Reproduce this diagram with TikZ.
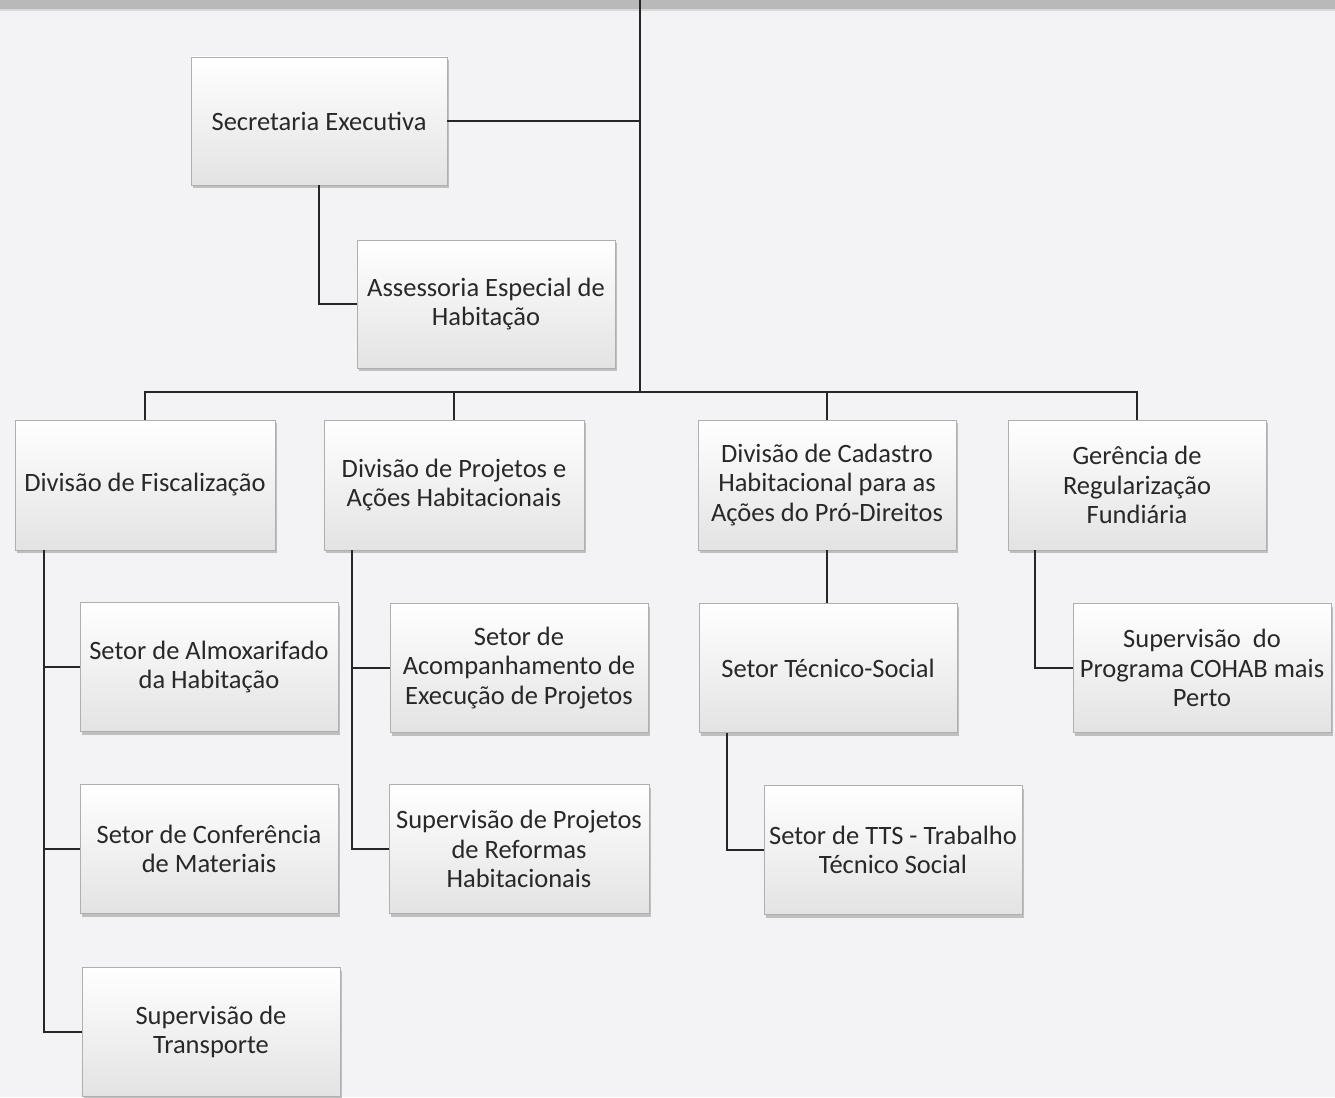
\documentclass[tikz,border=0pt]{standalone}
\usepackage{fontspec}
\setmainfont{Carlito}
\usetikzlibrary{shadows}
\definecolor{paper}{RGB}{243,243,245}
\definecolor{boxline}{RGB}{175,175,175}
\definecolor{inktext}{RGB}{40,40,40}
\tikzset{
  orgbox/.style={draw=boxline, line width=0.6pt, top color=white, bottom color=gray!22,
    minimum width=258pt, minimum height=129pt, inner sep=0pt, align=center,
    text=inktext, font=\fontsize{26.5}{29.5}\selectfont,
    drop shadow={shadow xshift=2pt, shadow yshift=-3pt, fill=gray!60, opacity=0.8}},
  link/.style={line width=1.6pt, black!85}
}

\begin{document}
\begin{tikzpicture}[x=1pt, y=-1pt]
 \useasboundingbox (0,0) rectangle (1335,1097);
 \fill[paper] (0,0) rectangle (1335,1097);

 % bottom edge of the box above
 \fill[gray!55] (0,0) rectangle (1335,9);
 \fill[gray!30] (0,9) rectangle (1335,11);

 \coordinate (top) at (640,0);
 \coordinate (bus) at (640,392);

 \node[orgbox, minimum width=256pt, minimum height=128pt] (sec) at (319,121) {Secretaria Executiva};
 \node[orgbox, minimum height=128pt] (ass) at (486,304) {Assessoria Especial de\\Habitação};

 \node[orgbox, minimum width=260pt, minimum height=130pt] (fisc) at (145,485) {Divisão de Fiscalização};
 \node[orgbox, minimum width=260pt, minimum height=130pt] (proj) at (454,485) {Divisão de Projetos e\\Ações Habitacionais};
 \node[orgbox, minimum width=258pt, minimum height=130pt] (cad) at (827,485) {Divisão de Cadastro\\Habitacional para as\\Ações do Pró-Direitos};
 \node[orgbox, minimum width=258pt, minimum height=130pt] (ger) at (1137,485) {Gerência de\\Regularização\\Fundiária};

 \node[orgbox] (almox) at (209,667) {Setor de Almoxarifado\\da Habitação};
 \node[orgbox] (conf) at (209,849) {Setor de Conferência\\de Materiais};
 \node[orgbox] (transp) at (211,1032) {Supervisão de\\Transporte};

 \node[orgbox] (acomp) at (519,668) {Setor de\\Acompanhamento de\\Execução de Projetos};
 \node[orgbox, minimum width=260pt] (reform) at (519,849) {Supervisão de Projetos\\de Reformas\\Habitacionais};

 \node[orgbox] (tecsoc) at (828,668) {Setor Técnico-Social};
 \node[orgbox] (tts) at (893,850) {Setor de TTS - Trabalho\\Técnico Social};

 \node[orgbox] (cohab) at (1202,668) {Supervisão\ \ do\\Programa COHAB mais\\Perto};

 % trunk and upper links
 \draw[link] (top) -- (bus);
 \draw[link] (sec.east) -- (sec.east -| top);
 \draw[link] (sec.south) |- (ass.west);

 % bus to the divisions
 \draw[link] (fisc.north) |- (bus) -| (ger.north);
 \draw[link] (proj.north) -- (proj.north |- bus);
 \draw[link] (cad.north) -- (cad.north |- bus);

 % Fiscalizacao
 \coordinate (fspine) at (44,550);
 \draw[link] (fspine) |- (transp.west);
 \draw[link] (almox.west) -- (almox.west -| fspine);
 \draw[link] (conf.west) -- (conf.west -| fspine);

 % Projetos
 \coordinate (pspine) at (352,550);
 \draw[link] (pspine) |- (reform.west);
 \draw[link] (acomp.west) -- (acomp.west -| pspine);

 % Cadastro
 \draw[link] (cad.south) -- (cad.south |- tecsoc.north);
 \coordinate (tspine) at (727,733);
 \draw[link] (tspine) |- (tts.west);

 % Gerencia
 \coordinate (gspine) at (1035,550);
 \draw[link] (gspine) |- (cohab.west);
\end{tikzpicture}
\end{document}
